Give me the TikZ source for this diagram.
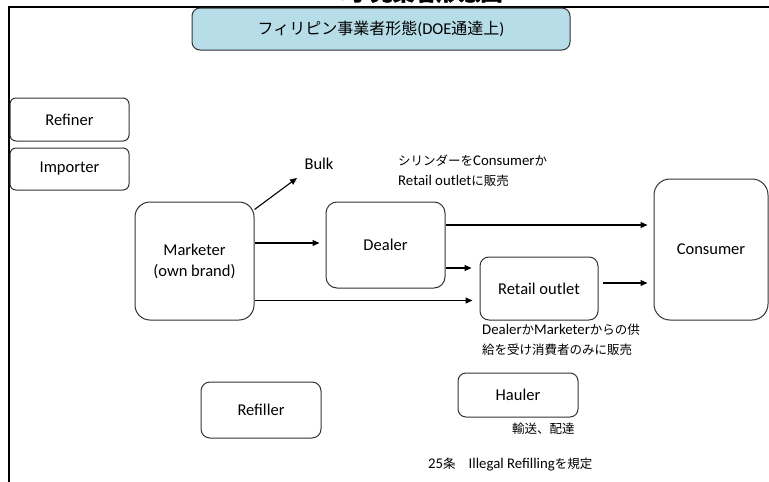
\documentclass[tikz,border=0pt]{standalone}
\usepackage{fontspec}
\setmainfont{Carlito}
\newfontfamily\jp{Noto Sans CJK JP}
\newfontfamily\jpb[FakeBold=1.5]{Noto Sans CJK JP}
\usetikzlibrary{arrows.meta}
\definecolor{titlefill}{HTML}{B7DDE8}
\definecolor{boxline}{HTML}{333333}
\newcommand{\jn}[1]{{\jp\fontsize{12.5}{19}\selectfont #1}}
\tikzset{
  box/.style={draw=boxline, line width=1pt, rounded corners=#1, align=center,
    font=\fontsize{16.5}{21}\selectfont, inner sep=0pt},
  box/.default=6pt,
  arr/.style={draw=black, line width=1.1pt, -{Triangle[length=7pt,width=6pt]}},
  note/.style={anchor=north west, align=left, inner sep=0pt,
    font=\fontsize{14.8}{19.5}\selectfont},
}
\begin{document}
\begin{tikzpicture}[x=1pt,y=-1pt]
\useasboundingbox (0,0) rectangle (769,482);
\clip (0,0) rectangle (769,482);
% partially visible page heading
\node[anchor=base, inner sep=0pt, font=\fontsize{22}{24}\selectfont\bfseries] (heading) at (408,0.5) {LPG{\jpb 小売業者形態図}};
% frame
\draw[line width=2pt] (8.5,482) -- (8.5,6.5) -- (769,6.5);
% title
\node[box=8pt, fill=titlefill, minimum width=378pt, minimum height=42pt] (title) at (381,29)
  {{\jp\fontsize{16}{18}\selectfont フィリピン事業者形態}{\fontsize{16.5}{18}\selectfont(DOE}{\jp\fontsize{16}{18}\selectfont 通達上}{\fontsize{16.5}{18}\selectfont)}};
% boxes
\node[box=6pt, minimum width=119pt, minimum height=43pt] (refiner) at (69.5,119.5) {Refiner};
\node[box=6pt, minimum width=119pt, minimum height=42pt] (importer) at (69.5,169) {Importer};
\node[box=15pt, minimum width=119pt, minimum height=118pt] (marketer) at (194.5,261) {Marketer\\(own brand)};
\node[box=11pt, minimum width=119pt, minimum height=86pt] (dealer) at (385.5,245) {Dealer};
\node[box=9pt, minimum width=118pt, minimum height=63pt] (retail) at (539,288.5) {Retail outlet};
\node[box=16pt, minimum width=114pt, minimum height=141pt] (consumer) at (711,249.5) {Consumer};
\node[box=9pt, minimum width=120pt, minimum height=56pt] (refiller) at (261,410) {Refiller};
\node[box=8pt, minimum width=120pt, minimum height=44pt] (hauler) at (518,395) {Hauler};
% labels
\node[inner sep=0pt, font=\fontsize{16.5}{18}\selectfont] (bulk) at (319,164) {Bulk};
\coordinate (bulktip) at (297,178);
\node[note] (dealernote) at (398,155) {\jn{シリンダーを}Consumer\jn{か}\\Retail outlet\jn{に販売}};
\node[note] (retailnote) at (482,324) {Dealer\jn{か}Marketer\jn{からの供}\\\jn{給を受け消費者のみに販売}};
\node[note] (haulernote) at (512,423) {\jn{輸送、配達}};
\node[note] (refillnote) at (428,458) {25\jn{条}\hspace{13pt}Illegal Refilling\jn{を規定}};
% connectors
\draw[arr] ([yshift=-8pt]marketer.north east) -- (bulktip);
\draw[arr, shorten >=6pt] (marketer.east |- 0,243) -- (dealer.west |- 0,243);
\draw[arr, shorten >=7pt] (marketer.east |- 0,300.5) -- (retail.west |- 0,300.5);
\draw[arr, shorten >=8pt] (dealer.east |- 0,268) -- (retail.west |- 0,268);
\draw[arr, shorten >=6pt] (dealer.east |- 0,225) -- (consumer.west |- 0,225);
\draw[arr, shorten <=4pt, shorten >=6pt] (retail.east |- 0,283) -- (consumer.west |- 0,283);
\end{tikzpicture}
\end{document}
